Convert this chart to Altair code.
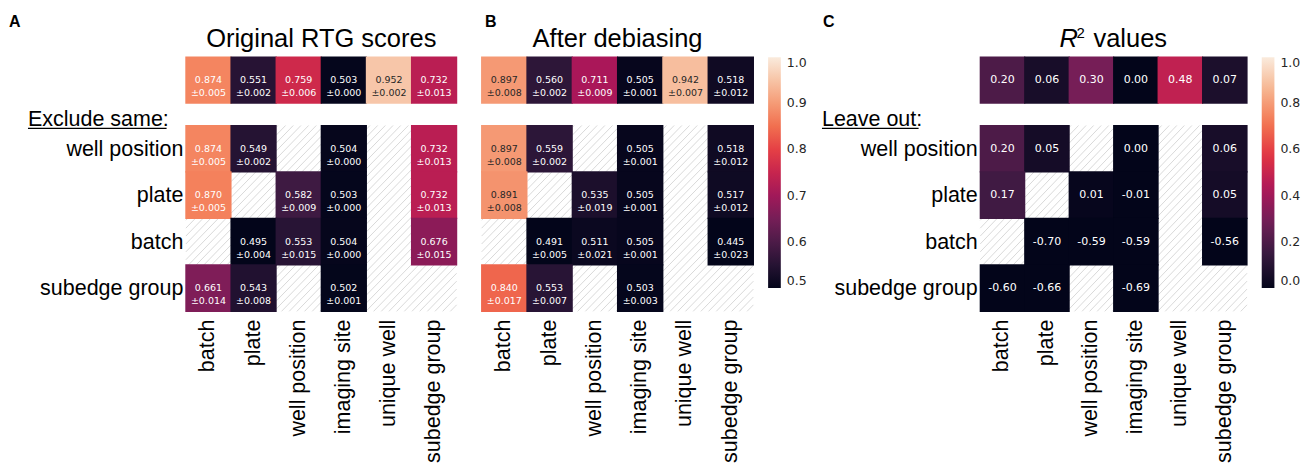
import altair as alt
import pandas as pd
import numpy as np

COLS = ["batch", "plate", "well position", "imaging site", "unique well", "subedge group"]
ROWS = ["well position", "plate", "batch", "subedge group"]

# Panel A: original RTG scores (mean, +- error)
A_TOP = [0.874, 0.551, 0.759, 0.503, 0.952, 0.732]
A_TOP_ERR = [0.005, 0.002, 0.006, 0.000, 0.002, 0.013]
A_BODY = [
    [0.874, 0.549, None, 0.504, None, 0.732],
    [0.870, None, 0.582, 0.503, None, 0.732],
    [None, 0.495, 0.553, 0.504, None, 0.676],
    [0.661, 0.543, None, 0.502, None, None],
]
A_BODY_ERR = [
    [0.005, 0.002, None, 0.000, None, 0.013],
    [0.005, None, 0.009, 0.000, None, 0.013],
    [None, 0.004, 0.015, 0.000, None, 0.015],
    [0.014, 0.008, None, 0.001, None, None],
]

# Panel B: after debiasing
B_TOP = [0.897, 0.560, 0.711, 0.505, 0.942, 0.518]
B_TOP_ERR = [0.008, 0.002, 0.009, 0.001, 0.007, 0.012]
B_BODY = [
    [0.897, 0.559, None, 0.505, None, 0.518],
    [0.891, None, 0.535, 0.505, None, 0.517],
    [None, 0.491, 0.511, 0.505, None, 0.445],
    [0.840, 0.553, None, 0.503, None, None],
]
B_BODY_ERR = [
    [0.008, 0.002, None, 0.001, None, 0.012],
    [0.008, None, 0.019, 0.001, None, 0.012],
    [None, 0.005, 0.021, 0.001, None, 0.023],
    [0.017, 0.007, None, 0.003, None, None],
]

# Panel C: R^2 values
C_TOP = [0.20, 0.06, 0.30, 0.00, 0.48, 0.07]
C_BODY = [
    [0.20, 0.05, None, 0.00, None, 0.06],
    [0.17, None, 0.01, -0.01, None, 0.05],
    [None, -0.70, -0.59, -0.59, None, -0.56],
    [-0.60, -0.66, None, -0.69, None, None],
]

ROCKET = ["#03051a", "#35193e", "#701f57", "#ad1759", "#e13342", "#f37651", "#f6b48f", "#faebdd"]

LABEL_FONT = "Liberation Sans"
NUM_FONT = "DejaVu Sans"


def cell_df(means, errs, rows):
    recs = []
    for ri, rname in enumerate(rows):
        for ci, cname in enumerate(COLS):
            v = means[ri][ci]
            if v is None:
                continue
            if errs is not None:
                label = f"{v:.3f}\n±{errs[ri][ci]:.3f}"
            else:
                label = f"{v:.2f}"
            recs.append(dict(row=rname, col=cname, v=v, label=label))
    return pd.DataFrame(recs)


def hatch_df(means, step=0.17):
    recs = []
    for ri, mrow in enumerate(means):
        for ci, v in enumerate(mrow):
            if v is not None:
                continue
            kmin = int(np.floor((ci + ri) / step)) - 1
            kmax = int(np.ceil((ci + ri + 2) / step)) + 1
            for k in range(kmin, kmax + 1):
                c = k * step
                xs = max(ci, c - (ri + 1))
                xe = min(ci + 1, c - ri)
                if xe - xs > 1e-6:
                    recs.append(dict(x=xs, y=c - xs, x2=xe, y2=c - xe))
    return pd.DataFrame(recs)


def label_chart(text, x, y, size, weight="normal", style="normal", align="left", font=LABEL_FONT):
    return alt.Chart(pd.DataFrame({"t": [text]})).mark_text(
        font=font, fontSize=size, fontWeight=weight, fontStyle=style,
        align=align, baseline="alphabetic", color="black"
    ).encode(text="t:N", x=alt.value(x), y=alt.value(y))


CELL = dict(width=alt.RelativeBandSize(band=1.025), height=alt.RelativeBandSize(band=1.025))


def panel(letter, letter_x, titles, top_m, top_e, body_m, body_e, lo, width,
          show_rows, note, legend_vals, num_size, dark_thr):
    stops = [lo + (1 - lo) * i / 7 for i in range(8)]
    cscale = alt.Scale(domain=stops, range=ROCKET, clamp=True, interpolate="rgb")
    if legend_vals is not None:
        leg = alt.Legend(type="gradient", orient="none", legendX=width + 14.7, legendY=0,
                         direction="vertical",
                         gradientLength=231, gradientThickness=12.7, values=legend_vals,
                         format=".1f", labelFontSize=12.5, labelFont=NUM_FONT, labelOffset=6,
                         labelColor="#262626", title=None, gradientStrokeWidth=0)
    else:
        leg = None

    top_df = cell_df([top_m], [top_e] if top_e is not None else None, ["top"])
    body_df = cell_df(body_m, body_e, ROWS)

    txt_color = alt.condition(f"datum.v >= {dark_thr}", alt.value("#262626"), alt.value("white"))
    mk_text = dict(font=NUM_FONT, fontSize=num_size, lineBreak="\n", lineHeight=13.3, baseline="middle")

    # ---- top row (all columns together) ----
    xt = alt.X("col:N", scale=alt.Scale(domain=COLS), axis=None)
    yt = alt.Y("row:N", axis=None)
    top_rect = alt.Chart(top_df).mark_rect(**CELL).encode(
        x=xt, y=yt, color=alt.Color("v:Q", scale=cscale, legend=leg))
    top_txt = alt.Chart(top_df).mark_text(**mk_text).encode(
        x=xt, y=yt, text="label:N", color=txt_color)
    deco = [label_chart(letter, letter_x, -30.3, 16, weight="bold")]
    for (t, x, y, size, style, align) in titles:
        deco.append(label_chart(t, x, y, size, style=style, align=align))
    top = alt.layer(top_rect, top_txt, *deco).properties(width=width, height=46)

    # ---- body (exclude / leave out rows) ----
    xb = alt.X("col:N", scale=alt.Scale(domain=COLS), axis=None)
    yb = alt.Y("row:N", scale=alt.Scale(domain=ROWS), axis=None)
    b_rect = alt.Chart(body_df).mark_rect(**CELL).encode(
        x=xb, y=yb, color=alt.Color("v:Q", scale=cscale, legend=None))
    b_txt = alt.Chart(body_df).mark_text(**mk_text).encode(
        x=xb, y=yb, text="label:N", color=txt_color)
    col_lab = alt.Chart(pd.DataFrame({"col": COLS})).mark_text(
        font=LABEL_FONT, fontSize=21.5, angle=270, align="right", baseline="middle", color="black"
    ).encode(x=xb, y=alt.value(194.3), text="col:N")
    core_layers = [b_rect, b_txt, col_lab]
    if show_rows:
        row_lab = alt.Chart(pd.DataFrame({"row": ROWS})).mark_text(
            font=LABEL_FONT, fontSize=21.5, align="right", baseline="middle", color="black", dy=1
        ).encode(y=yb, x=alt.value(-2.5), text="row:N")
        core_layers.append(row_lab)
    core = alt.layer(*core_layers)

    hatch = alt.Chart(hatch_df(body_m)).mark_rule(color="#cfcfcf", strokeWidth=0.8).encode(
        x=alt.X("x:Q", scale=alt.Scale(domain=[0, 6], nice=False, zero=False), axis=None),
        y=alt.Y("y:Q", scale=alt.Scale(domain=[0, 4], reverse=True, nice=False, zero=False), axis=None),
        x2="x2:Q", y2="y2:Q")
    extras = []
    if note is not None:
        ntext, nx, ux2 = note
        extras.append(label_chart(ntext, nx, 1, 21.5))
        extras.append(alt.Chart(pd.DataFrame({"t": [0]})).mark_rule(color="black", strokeWidth=1.3).encode(
            x=alt.value(nx), x2=alt.value(ux2), y=alt.value(2.8), y2=alt.value(2.8)))
    body = alt.layer(hatch, core, *extras).resolve_scale(
        x="independent", y="independent").properties(width=width, height=186)

    return top, body


def spacer(w, h):
    return alt.Chart(pd.DataFrame({"t": [0]})).mark_point(opacity=0).encode(
        x=alt.value(0), y=alt.value(0)).properties(width=w, height=h)


WA, WB, WC = 271, 272, 267
GAP = 25

tA, bA = panel("A", -177, [("Original RTG scores", WA / 2, -10.3, 25.5, "normal", "center")],
               A_TOP, A_TOP_ERR, A_BODY, A_BODY_ERR, 0.5, WA, True,
               ("Exclude same:", -158, -19.3), None, 9.5, 0.885)
tB, bB = panel("B", 3.3, [("After debiasing", WB / 2, -10.3, 25.5, "normal", "center")],
               B_TOP, B_TOP_ERR, B_BODY, B_BODY_ERR, 0.5, WB, False,
               None, [0.5, 0.6, 0.7, 0.8, 0.9, 1.0], 9.5, 0.885)
tC, bC = panel("C", -157.4, [("R", 79.3, -10.3, 25.5, "italic", "left"),
                             ("2", 96.3, -19.0, 15, "normal", "left"),
                             ("values", 113.3, -10.3, 25.5, "normal", "left")],
               C_TOP, None, C_BODY, None, 0.0, WC, True,
               ("Leave out:", -158.4, -61.7), [0.0, 0.2, 0.4, 0.6, 0.8, 1.0], 11, 2.0)

SP = 226.7 - 2 * GAP

chart = alt.concat(
    tA, tB, spacer(SP, 46), tC,
    bA, bB, spacer(SP, 186), bC,
    columns=4, spacing={"row": 22.4, "column": GAP}, bounds="flush",
).resolve_scale(
    color="independent"
).properties(
    padding={"left": 1, "top": 5, "right": 0, "bottom": 0},
    background="white",
).configure_view(stroke=None)

chart.save("out.html", embed_options={"renderer": "svg", "actions": False})
